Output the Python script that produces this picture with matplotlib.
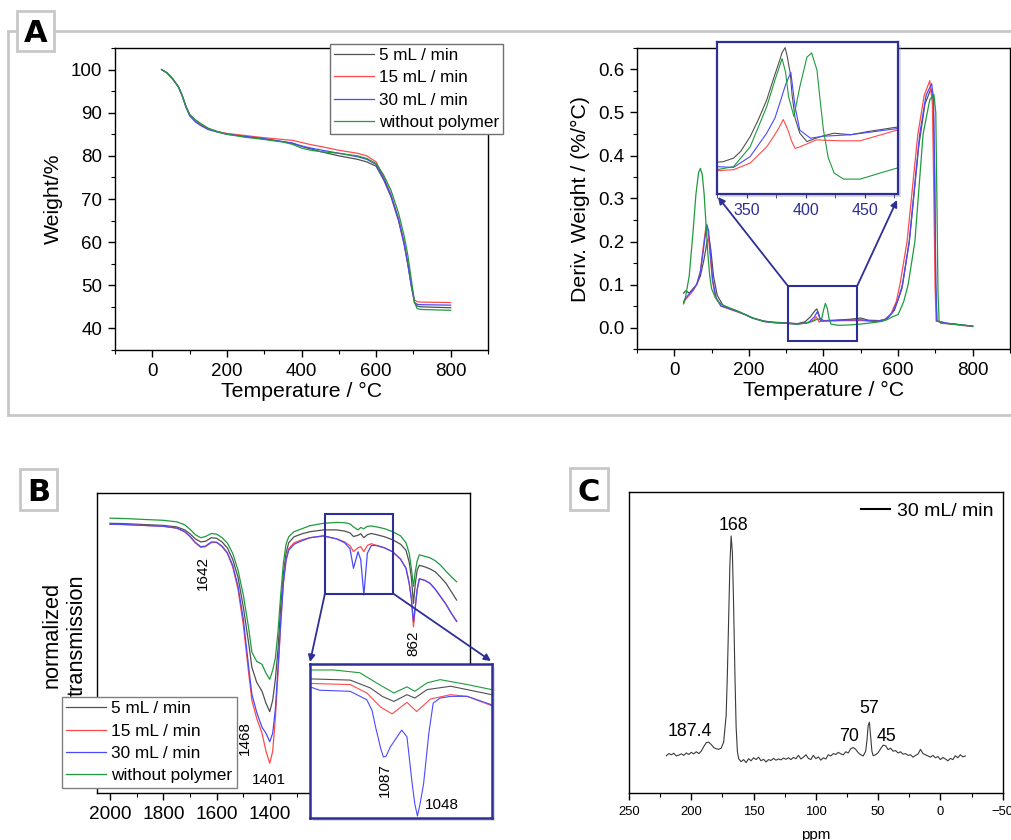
import matplotlib
matplotlib.use('Agg')
import matplotlib.pyplot as plt
from matplotlib.patches import Rectangle
from matplotlib.lines import Line2D
from matplotlib.ticker import MultipleLocator, FormatStrFormatter, FuncFormatter

plt.rcParams['font.family'] = ['Liberation Sans', 'DejaVu Sans']

# ---------------- data ----------------
series_labels = ['5 mL / min', '15 mL / min', '30 mL / min', 'without polymer']
series_colors = ['#505050', '#ff4a4a', '#4a4aff', '#1e9b3c']

# Panel A (left): TGA weight %
tga_x = [25, 40, 55, 70, 80, 90, 100, 115, 130, 150, 175, 200, 250, 300, 350, 375, 400, 425,
         450, 500, 550, 575, 600, 620, 640, 660, 675, 685, 695, 703, 710, 720, 800]
tga_black = [100, 99.2, 97.8, 96, 94, 91.5, 89.6, 88.2, 87.3, 86.3, 85.6, 85.1, 84.5, 83.9, 83.3, 82.9,
             82.2, 81.6, 81.0, 80.0, 79.2, 78.6, 77.6, 74.5, 70.5, 65, 59.5, 54.8, 49.5, 46.0, 45.2, 45.0, 44.8]
tga_red = [100, 99.2, 97.8, 96, 94, 91.5, 89.6, 88.2, 87.3, 86.3, 85.6, 85.2, 84.7, 84.2, 83.8, 83.6,
           83.1, 82.6, 82.2, 81.3, 80.6, 80.0, 78.6, 75.2, 71, 65.5, 60, 55.2, 50, 46.6, 46.2, 46.1, 46.0]
tga_blue = [100, 99.2, 97.8, 96, 94, 91.3, 89.3, 87.9, 87.0, 86.1, 85.5, 85.0, 84.5, 84.0, 83.3, 83.0,
            82.3, 81.8, 81.4, 80.6, 79.8, 79.2, 78.0, 74.8, 70.8, 65.3, 59.8, 55, 49.7, 46.0, 45.6, 45.5, 45.4]
tga_green = [100, 99.2, 97.8, 96, 94, 91.5, 89.6, 88.4, 87.5, 86.4, 85.6, 85.0, 84.3, 83.8, 83.2, 82.7,
             81.8, 81.3, 81.0, 80.6, 80.0, 79.4, 78.2, 75.6, 72, 66.8, 61.5, 57, 51, 46, 44.6, 44.4, 44.2]

# Panel A (right): derivative weight
dtg_black_x = [25, 30, 35, 40, 50, 60, 70, 80, 88, 93, 98, 105, 115, 130, 150, 170, 190, 210, 240, 270,
               300, 330, 350, 365, 378, 382, 386, 390, 400, 430, 470, 500, 520, 550, 570, 590, 610, 630,
               655, 672, 688, 694, 698, 701, 704, 730, 800]
dtg_black = [0.08, 0.085, 0.083, 0.08, 0.09, 0.1, 0.12, 0.16, 0.2, 0.21, 0.18, 0.12, 0.075, 0.052, 0.044,
             0.038, 0.03, 0.022, 0.015, 0.012, 0.011, 0.009, 0.013, 0.025, 0.04, 0.043, 0.035, 0.022, 0.016,
             0.017, 0.019, 0.022, 0.017, 0.016, 0.02, 0.04, 0.09, 0.2, 0.42, 0.52, 0.555, 0.53, 0.35, 0.1,
             0.015, 0.01, 0.003]
dtg_red_x = [25, 30, 40, 50, 60, 70, 78, 85, 90, 96, 102, 110, 125, 150, 170, 190, 210, 240, 270, 300,
             330, 360, 375, 380, 384, 388, 400, 450, 500, 540, 560, 580, 595, 605, 624, 653, 670, 685,
             692, 696, 699, 702, 730, 800]
dtg_red = [0.057, 0.065, 0.075, 0.085, 0.1, 0.13, 0.19, 0.235, 0.225, 0.17, 0.11, 0.07, 0.05, 0.042, 0.036,
           0.03, 0.022, 0.014, 0.011, 0.01, 0.008, 0.011, 0.018, 0.025, 0.02, 0.013, 0.015, 0.016, 0.016,
           0.014, 0.016, 0.03, 0.06, 0.1, 0.2, 0.45, 0.54, 0.574, 0.52, 0.3, 0.1, 0.015, 0.009, 0.002]
dtg_blue_x = [25, 30, 40, 50, 60, 70, 78, 87, 92, 97, 103, 112, 125, 150, 170, 190, 210, 240, 270, 300,
              330, 360, 375, 383, 387, 392, 400, 450, 500, 540, 565, 585, 600, 612, 630, 658, 675, 690,
              695, 698, 701, 704, 730, 800]
dtg_blue = [0.06, 0.068, 0.078, 0.088, 0.1, 0.13, 0.18, 0.24, 0.225, 0.17, 0.11, 0.07, 0.05, 0.043, 0.037,
            0.03, 0.022, 0.014, 0.011, 0.01, 0.008, 0.012, 0.024, 0.036, 0.03, 0.016, 0.015, 0.017, 0.018,
            0.014, 0.018, 0.035, 0.065, 0.1, 0.2, 0.45, 0.54, 0.567, 0.53, 0.35, 0.1, 0.015, 0.01, 0.003]
dtg_green_x = [25, 30, 40, 50, 58, 65, 70, 75, 80, 85, 90, 95, 100, 110, 120, 135, 150, 170, 190, 210,
               230, 250, 280, 310, 330, 350, 370, 385, 390, 395, 400, 405, 410, 415, 420, 440, 470, 500,
               530, 555, 570, 585, 600, 615, 627, 645, 667, 685, 696, 701, 704, 707, 710, 714, 730, 760, 800]
dtg_green = [0.055, 0.07, 0.12, 0.22, 0.31, 0.36, 0.37, 0.355, 0.31, 0.24, 0.17, 0.12, 0.09, 0.07, 0.058,
             0.05, 0.045, 0.038, 0.03, 0.022, 0.017, 0.013, 0.011, 0.009, 0.008, 0.01, 0.014, 0.02, 0.018,
             0.02, 0.04, 0.056, 0.045, 0.02, 0.008, 0.005, 0.006, 0.008, 0.011, 0.014, 0.018, 0.025, 0.03,
             0.06, 0.1, 0.2, 0.45, 0.53, 0.542, 0.5, 0.3, 0.08, 0.015, 0.01, 0.009, 0.007, 0.003]

# Panel A (right) inset: 325-478 °C, relative scale
ins_black_x = [325, 330, 339, 345, 353, 360, 367, 372, 378, 380, 382.6, 384.5, 387, 388.5, 391, 395, 401,
               412, 424, 438, 452, 477]
ins_black = [0.21, 0.212, 0.236, 0.28, 0.377, 0.49, 0.618, 0.74, 0.88, 0.93, 0.963, 0.9, 0.79, 0.65, 0.5,
             0.40, 0.345, 0.377, 0.40, 0.39, 0.41, 0.44]
ins_red_x = [325, 339, 353, 367, 373, 377, 381, 385, 388, 391, 395, 409, 429, 446, 477]
ins_red = [0.153, 0.16, 0.203, 0.31, 0.38, 0.43, 0.49, 0.42, 0.35, 0.30, 0.31, 0.356, 0.35, 0.35, 0.42]
ins_blue_x = [325, 339, 353, 367, 374, 378, 383, 387.4, 389, 391, 395, 404, 415, 438, 477]
ins_blue = [0.18, 0.175, 0.246, 0.40, 0.5, 0.596, 0.72, 0.80, 0.7, 0.574, 0.42, 0.367, 0.38, 0.39, 0.43]
ins_green_x = [325, 339, 353, 367, 374, 380, 383, 385.5, 390, 395, 401, 405, 409.5, 412, 415, 419, 424,
               432, 446, 463, 477]
ins_green = [0.16, 0.18, 0.31, 0.574, 0.75, 0.89, 0.8, 0.64, 0.51, 0.705, 0.90, 0.928, 0.815, 0.63, 0.42,
             0.24, 0.138, 0.098, 0.098, 0.138, 0.17]

# Panel B: FTIR, normalized transmission
ir_x = [2000, 1950, 1900, 1850, 1800, 1750, 1720, 1700, 1680, 1660, 1642, 1620, 1600, 1580, 1560, 1540,
        1520, 1500, 1480, 1468, 1450, 1430, 1415, 1401, 1390, 1380, 1370, 1360, 1350, 1340, 1330, 1310,
        1280, 1250, 1200, 1150, 1120, 1100, 1087, 1070, 1060, 1048, 1035, 1020, 1000, 970, 940, 910, 890,
        878, 870, 862, 855, 848, 840, 820, 800, 780, 760, 740, 720, 700]
ir_black = [0.9, 0.899, 0.897, 0.895, 0.893, 0.888, 0.878, 0.865, 0.848, 0.838, 0.84, 0.852, 0.85, 0.838,
            0.818, 0.78, 0.72, 0.62, 0.5, 0.42, 0.37, 0.34, 0.30, 0.272, 0.31, 0.38, 0.48, 0.62, 0.73, 0.8,
            0.835, 0.855, 0.865, 0.872, 0.878, 0.878, 0.874, 0.868, 0.856, 0.86, 0.865, 0.852, 0.862, 0.866,
            0.862, 0.855, 0.845, 0.83, 0.81, 0.77, 0.72, 0.633, 0.7, 0.745, 0.76, 0.755, 0.748, 0.738, 0.72,
            0.7, 0.672, 0.644]
ir_red = [0.897, 0.896, 0.894, 0.892, 0.89, 0.884, 0.872, 0.856, 0.835, 0.82, 0.822, 0.836, 0.836, 0.822,
          0.8, 0.755, 0.68, 0.56, 0.40, 0.31, 0.25, 0.2, 0.14, 0.10, 0.14, 0.25, 0.4, 0.56, 0.7, 0.78,
          0.815, 0.835, 0.845, 0.852, 0.858, 0.848, 0.838, 0.825, 0.806, 0.818, 0.822, 0.806, 0.826, 0.832,
          0.826, 0.818, 0.805, 0.78, 0.75, 0.7, 0.65, 0.555, 0.62, 0.68, 0.715, 0.71, 0.7, 0.68, 0.655,
          0.63, 0.6, 0.572]
ir_blue = [0.897, 0.896, 0.894, 0.892, 0.89, 0.884, 0.872, 0.856, 0.836, 0.822, 0.824, 0.838, 0.837, 0.824,
           0.802, 0.76, 0.69, 0.58, 0.42, 0.33, 0.27, 0.22, 0.2, 0.172, 0.2, 0.28, 0.42, 0.57, 0.7, 0.775,
           0.81, 0.83, 0.842, 0.852, 0.858, 0.848, 0.835, 0.815, 0.75, 0.805, 0.78, 0.661, 0.8, 0.826,
           0.826, 0.818, 0.805, 0.78, 0.75, 0.7, 0.65, 0.572, 0.625, 0.68, 0.715, 0.71, 0.7, 0.68, 0.655,
           0.63, 0.6, 0.574]
ir_green = [0.917, 0.916, 0.914, 0.912, 0.91, 0.905, 0.895, 0.88, 0.862, 0.852, 0.856, 0.866, 0.864, 0.852,
            0.834, 0.8, 0.744, 0.66, 0.55, 0.47, 0.44, 0.43, 0.40, 0.38, 0.41, 0.45, 0.54, 0.66, 0.767,
            0.83, 0.855, 0.872, 0.882, 0.892, 0.9, 0.903, 0.902, 0.898, 0.888, 0.878, 0.886, 0.882, 0.89,
            0.891, 0.888, 0.882, 0.872, 0.858, 0.835, 0.8, 0.75, 0.69, 0.74, 0.775, 0.795, 0.79, 0.785,
            0.775, 0.76, 0.74, 0.722, 0.705]

# Panel B inset: 1171-963 cm-1
irin_black_x = [1171, 1125, 1102, 1088, 1075, 1060, 1051, 1037, 1010, 963]
irin_black = [0.905, 0.897, 0.846, 0.79, 0.758, 0.802, 0.78, 0.835, 0.857, 0.802]
irin_red_x = [1171, 1125, 1106, 1090, 1077, 1060, 1049, 1033, 1010, 991, 963]
irin_red = [0.875, 0.868, 0.813, 0.72, 0.677, 0.752, 0.692, 0.774, 0.802, 0.791, 0.73]
irin_blue_x = [1171, 1160, 1125, 1106, 1100, 1096, 1090, 1087, 1084, 1079, 1066, 1060, 1054, 1051, 1048,
               1045, 1041, 1035, 1030, 1022, 1010, 991, 963]
irin_blue = [0.853, 0.831, 0.824, 0.769, 0.70, 0.593, 0.45, 0.396, 0.40, 0.462, 0.571, 0.527, 0.22, 0.09,
             0.011, 0.09, 0.22, 0.549, 0.747, 0.78, 0.791, 0.791, 0.736]
irin_green_x = [1171, 1144, 1114, 1095, 1075, 1060, 1051, 1037, 1022, 991, 963]
irin_green = [0.963, 0.963, 0.945, 0.879, 0.813, 0.853, 0.824, 0.879, 0.9, 0.868, 0.835]

# Panel C: 13C NMR, 30 mL/min
nmr_ppm = [220, 218, 216, 214, 212, 210, 208, 206, 204, 202, 200, 198, 196, 194, 192, 190, 188, 186, 184,
           182, 180, 178, 176, 174, 172, 171, 170, 169, 168, 167, 166, 165, 164, 163, 162, 160, 158, 156,
           154, 152, 150, 148, 146, 144, 142, 140, 138, 136, 134, 132, 130, 128, 126, 124, 122, 120, 118,
           116, 114, 112, 110, 108, 106, 104, 102, 100, 98, 96, 94, 92, 90, 88, 86, 84, 82, 80, 78, 76,
           74, 72, 70, 68, 66, 64, 62, 60, 59, 58, 57, 56, 55, 54, 52, 50, 48, 46, 44, 42, 40, 38, 36,
           34, 32, 30, 28, 26, 24, 22, 20, 18, 16, 14, 12, 10, 8, 6, 4, 2, 0, -2, -4, -6, -8, -10, -12,
           -14, -16, -18, -20]
nmr_int = [0.125, 0.132, 0.128, 0.133, 0.124, 0.127, 0.131, 0.126, 0.134, 0.129, 0.136, 0.131, 0.138, 0.132,
           0.140, 0.155, 0.168, 0.170, 0.162, 0.152, 0.148, 0.146, 0.150, 0.170, 0.26, 0.40, 0.58, 0.76,
           0.855, 0.80, 0.62, 0.40, 0.22, 0.14, 0.115, 0.105, 0.112, 0.102, 0.115, 0.108, 0.118, 0.112,
           0.120, 0.108, 0.113, 0.104, 0.112, 0.109, 0.116, 0.110, 0.114, 0.111, 0.117, 0.113, 0.118,
           0.112, 0.119, 0.115, 0.126, 0.114, 0.120, 0.128, 0.116, 0.112, 0.126, 0.115, 0.121, 0.110,
           0.118, 0.114, 0.128, 0.124, 0.132, 0.129, 0.136, 0.131, 0.128, 0.138, 0.134, 0.148, 0.152,
           0.146, 0.135, 0.128, 0.124, 0.140, 0.175, 0.225, 0.236, 0.19, 0.14, 0.125, 0.128, 0.135, 0.148,
           0.160, 0.158, 0.145, 0.150, 0.140, 0.142, 0.134, 0.138, 0.130, 0.132, 0.126, 0.128, 0.120,
           0.126, 0.130, 0.146, 0.132, 0.128, 0.124, 0.120, 0.126, 0.118, 0.122, 0.112, 0.119, 0.114,
           0.108, 0.116, 0.112, 0.125, 0.118, 0.128, 0.121, 0.124]

# ---------------- layout helpers ----------------
W, H = 1012, 840
DB = '#2e2f96'
GRAYBOX = '#c8c8c8'


def fx(x):
    return x / W


def fy(y):
    return 1 - y / H


def rect(l, t, r, b):
    return [l / W, 1 - b / H, (r - l) / W, (b - t) / H]


fig = plt.figure(figsize=(W / 100, H / 100), dpi=100)


def style_ticks(ax, size):
    ax.tick_params(which='major', direction='out', length=5, width=1, labelsize=size, pad=4,
                   top=False, right=False)
    ax.tick_params(which='minor', direction='out', length=3, width=0.8, top=False, right=False)
    for s in ax.spines.values():
        s.set_linewidth(1.0)


def label_box(l, t, r, b, letter):
    fig.add_artist(Rectangle((fx(l), fy(b)), (r - l) / W, (b - t) / H, transform=fig.transFigure,
                             fc='white', ec=GRAYBOX, lw=2, zorder=10))
    fig.text(fx((l + r) / 2), fy((t + b) / 2), letter, ha='center', va='center_baseline',
             fontsize=22, fontweight='heavy', family='DejaVu Sans', zorder=11)


LEG_KW = dict(borderaxespad=0, fancybox=False, framealpha=1, handlelength=2.3, handletextpad=0.3,
              labelspacing=0.42, borderpad=0.25)

# Panel A frame
for xs, ys in [([8, 1012], [31, 31]), ([8, 8], [31, 415]), ([8, 1012], [415, 415])]:
    fig.add_artist(Line2D([fx(v) for v in xs], [fy(v) for v in ys], color=GRAYBOX, lw=2,
                          transform=fig.transFigure, zorder=9))

# ---- A left ----
ax1 = fig.add_axes(rect(115, 48, 488, 350))
for y, c, lab in zip([tga_black, tga_red, tga_blue, tga_green], series_colors, series_labels):
    ax1.plot(tga_x, y, color=c, lw=0.9, label=lab)
ax1.set_xlim(-100, 900)
ax1.set_ylim(35, 105)
ax1.xaxis.set_major_locator(MultipleLocator(200))
ax1.xaxis.set_minor_locator(MultipleLocator(100))
ax1.yaxis.set_major_locator(MultipleLocator(10))
ax1.yaxis.set_minor_locator(MultipleLocator(5))
style_ticks(ax1, 13.5)
ax1.set_xlabel('Temperature / °C', fontsize=15.3, labelpad=2)
ax1.set_ylabel('Weight/%', fontsize=15.3, labelpad=6)
ax1.legend(loc='upper left', bbox_to_anchor=(fx(330), fy(44)), bbox_transform=fig.transFigure,
           fontsize=12.3, edgecolor='#707070', **LEG_KW)

# ---- A right ----
ax2 = fig.add_axes(rect(637, 48, 1010, 349))
for xx, y, c in zip([dtg_black_x, dtg_red_x, dtg_blue_x, dtg_green_x],
                    [dtg_black, dtg_red, dtg_blue, dtg_green], series_colors):
    ax2.plot(xx, y, color=c, lw=0.9)
ax2.set_xlim(-100, 900)
ax2.set_ylim(-0.05, 0.65)
ax2.xaxis.set_major_locator(MultipleLocator(200))
ax2.xaxis.set_minor_locator(MultipleLocator(100))
ax2.yaxis.set_major_locator(MultipleLocator(0.1))
ax2.yaxis.set_minor_locator(MultipleLocator(0.05))
ax2.yaxis.set_major_formatter(FormatStrFormatter('%.1f'))
style_ticks(ax2, 13.5)
ax2.set_xlabel('Temperature / °C', fontsize=15.3, labelpad=2)
ax2.set_ylabel('Deriv. Weight / (%/°C)', fontsize=15.3, labelpad=6)
ax2.add_patch(Rectangle((305, -0.032), 185, 0.128, fill=False, ec=DB, lw=1.5, zorder=5))
for (dx, dy), (px, py) in [((305, 0.096), (718, 197)), ((490, 0.096), (897, 200))]:
    ax2.annotate('', xy=(fx(px), fy(py)), xycoords='figure fraction', xytext=(dx, dy),
                 textcoords='data', arrowprops=dict(arrowstyle='-|>', color=DB, lw=1.3,
                                                    mutation_scale=10, shrinkA=0, shrinkB=0))

fig.add_artist(Rectangle((fx(720), fy(197)), 181 / W, 152 / H, transform=fig.transFigure,
                         fc='#999999', alpha=0.35, ec='none', zorder=0.5))
axi = fig.add_axes(rect(717, 42, 898, 194), zorder=1)
for xx, y, c in zip([ins_black_x, ins_red_x, ins_blue_x, ins_green_x],
                    [ins_black, ins_red, ins_blue, ins_green], series_colors):
    axi.plot(xx, y, color=c, lw=0.8)
axi.set_xlim(325, 478)
axi.set_ylim(0, 1)
axi.set_yticks([])
axi.xaxis.set_major_locator(MultipleLocator(50))
axi.xaxis.set_minor_locator(MultipleLocator(25))
axi.tick_params(which='both', direction='out', color=DB, labelcolor=DB, labelsize=11.5, length=3)
for s in axi.spines.values():
    s.set_color(DB)
    s.set_linewidth(1.6)

# ---- B ----
axB = fig.add_axes(rect(96.7, 493.3, 470, 793.3))
for y, c, lab in zip([ir_black, ir_red, ir_blue, ir_green], series_colors, series_labels):
    axB.plot(ir_x, y, color=c, lw=0.9, label=lab)
axB.set_xlim(2050, 650)
axB.set_ylim(0, 1)
axB.set_yticks([])
axB.xaxis.set_major_locator(MultipleLocator(200))
axB.xaxis.set_minor_locator(MultipleLocator(100))
axB.xaxis.set_major_formatter(FuncFormatter(lambda v, p: '%d' % v if v > 1300 else ''))
style_ticks(axB, 13.7)
axB.legend(loc='upper left', bbox_to_anchor=(fx(62), fy(697)), bbox_transform=fig.transFigure,
           fontsize=12.4, edgecolor='#808080', **LEG_KW)
fig.text(fx(65), fy(635), 'normalized\ntransmission', rotation=90, ha='center', va='center',
         multialignment='center', fontsize=15.7, linespacing=1.25)
for txt, xv, yv, rot in [('1642', 1650, 0.733, 90), ('1468', 1494, 0.183, 90),
                         ('1401', 1406, 0.044, 0), ('862', 863, 0.5, 90)]:
    axB.text(xv, yv, txt, rotation=rot, ha='center', va='center', fontsize=11)
axB.add_patch(Rectangle((1194, 0.6657), 938 - 1194, 0.931 - 0.6657, fill=False, ec=DB, lw=1.5, zorder=5))
for (dx, dy), (px, py) in [((1194, 0.6657), (310, 662)), ((938, 0.6657), (491, 661))]:
    axB.annotate('', xy=(fx(px), fy(py)), xycoords='figure fraction', xytext=(dx, dy),
                 textcoords='data', arrowprops=dict(arrowstyle='-|>', color=DB, lw=1.3,
                                                    mutation_scale=10, shrinkA=0, shrinkB=0))

fig.add_artist(Rectangle((fx(313), fy(820.7)), 181.7 / W, 153.4 / H, transform=fig.transFigure,
                         fc='#999999', alpha=0.35, ec='none', zorder=0.5))
axBi = fig.add_axes(rect(310, 664.3, 491.7, 817.7), zorder=1)
for xx, y, c in zip([irin_black_x, irin_red_x, irin_blue_x, irin_green_x],
                    [irin_black, irin_red, irin_blue, irin_green], series_colors):
    axBi.plot(xx, y, color=c, lw=0.8)
axBi.set_xlim(1171, 963)
axBi.set_ylim(0, 1)
axBi.set_xticks([])
axBi.set_yticks([])
for s in axBi.spines.values():
    s.set_color(DB)
    s.set_linewidth(1.8)
axBi.text(1085, 0.246, '1087', rotation=90, ha='center', va='center', fontsize=11)
axBi.text(1020, 0.083, '1048', ha='center', va='center', fontsize=11)

# ---- C ----
axC = fig.add_axes(rect(629, 492.3, 1002.7, 793.3))
axC.plot(nmr_ppm, nmr_int, color='#3a3a3a', lw=0.8, label='30 mL/ min')
axC.set_xlim(250, -50)
axC.set_ylim(0, 1)
axC.set_yticks([])
axC.xaxis.set_major_locator(MultipleLocator(50))
axC.xaxis.set_minor_locator(MultipleLocator(25))
style_ticks(axC, 9.4)
axC.set_xlabel('ppm', fontsize=11, labelpad=7)
leg = axC.legend(loc='center left', bbox_to_anchor=(fx(861), fy(511)), bbox_transform=fig.transFigure,
                 frameon=False, fontsize=14, handlelength=1.5, handletextpad=0.35, borderpad=0,
                 borderaxespad=0)
for h in leg.legend_handles:
    h.set_color('black')
    h.set_linewidth(1.5)
for txt, xv, yv in [('168', 166.3, 0.891), ('187.4', 201, 0.205), ('70', 73.2, 0.19),
                    ('57', 57.1, 0.282), ('45', 43.1, 0.19)]:
    axC.text(xv, yv, txt, ha='center', va='center', fontsize=12.8)

# label boxes
label_box(16.7, 10.7, 54.3, 51, 'A')
label_box(20, 469, 57.3, 510, 'B')
label_box(570, 468.3, 608.3, 510, 'C')

fig.savefig('out.png', dpi=100)
